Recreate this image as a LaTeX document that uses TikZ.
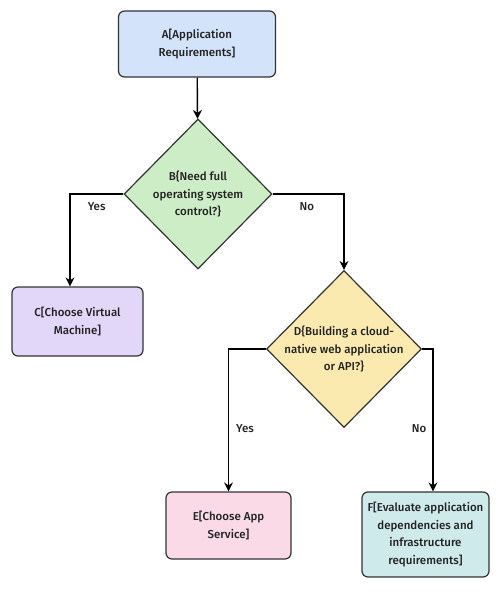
\documentclass[tikz,border=0pt]{standalone}
\usepackage{fontspec}
\setmainfont{Fira Sans}[UprightFont=* Medium]
\usetikzlibrary{shapes.geometric,arrows.meta,positioning}
\definecolor{edge}{HTML}{333333}
\definecolor{ink}{HTML}{222222}
\definecolor{reqblue}{HTML}{D2E3FA}
\definecolor{askgreen}{HTML}{CDEDC6}
\definecolor{vmlilac}{HTML}{E3D7F9}
\definecolor{askyellow}{HTML}{FBEAB0}
\definecolor{apppink}{HTML}{FADAE7}
\definecolor{evalcyan}{HTML}{CFEAEA}

\begin{document}
\begin{tikzpicture}[x=1pt,y=-1pt,font=\fontsize{11.5}{17.5}\selectfont,>={Stealth[length=9pt,width=9pt]},
 box/.style={draw=edge,line width=1.2pt,rounded corners=6pt,align=center,text=ink},
 dec/.style={diamond,draw=edge,line width=1.2pt,align=center,inner sep=-14pt,text=ink},
 flow/.style={->,line width=1.4pt},
 tag/.style={text=ink,inner sep=1pt}]
\useasboundingbox (0,0) rectangle (503,600);
% boxes and decisions
\node[box,fill=reqblue,minimum width=157pt,minimum height=66pt](A) at (197,44){A[Application\\Requirements]};
\node[dec,fill=askgreen,minimum width=148pt,minimum height=150pt](B) at (198,194){B\{Need full\\operating system\\control?\}};
\node[box,fill=vmlilac,minimum width=131pt,minimum height=69pt](C) at (77.5,321.5){C[Choose Virtual\\Machine]};
\node[dec,fill=askyellow,minimum width=155pt,minimum height=157pt](D) at (344,349){D\{Building a cloud-\\native web application\\or API?\}};
\node[box,fill=apppink,minimum width=125pt,minimum height=67pt](E) at (228.5,525.5){E[Choose App\\Service]};
\node[box,fill=evalcyan,minimum width=127pt,minimum height=85pt](F) at (425.5,534.5){F[Evaluate application\\dependencies and\\infrastructure\\requirements]};
% connectors
\draw[flow](A)--(B);
\draw[flow](B.west)-|node[tag,pos=0.25,below=7pt](yesB){Yes}([xshift=-7.5pt]C.north);
\draw[flow](B.east)-|node[tag,pos=0.24,below=7pt](noB){No}(D.north);
\draw[flow](D.west)-|node[tag,pos=0.78,right=6pt](yesD){Yes}(E.north);
\draw[flow](D.east)-|node[tag,pos=0.78,left=5pt](noD){No}([xshift=7.5pt]F.north);
\end{tikzpicture}
\end{document}
